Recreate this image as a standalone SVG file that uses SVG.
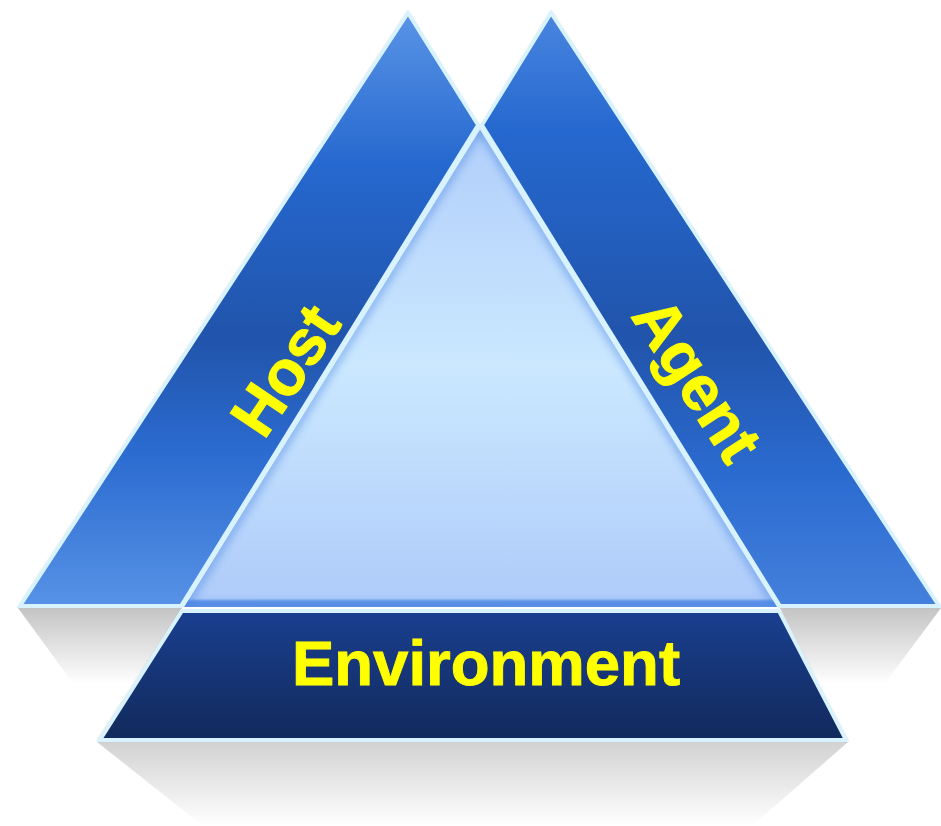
<svg xmlns="http://www.w3.org/2000/svg" width="941" height="826" viewBox="0 0 941 826">
  <style>
    .edge { stroke: #d8f3ff; stroke-width: 3.8; stroke-linejoin: miter; }
    .label { font-family: "Liberation Sans", Arial, sans-serif; font-weight: 700; fill: #ffff00; stroke: #ffff00; stroke-width: 0.9; font-size: 63.5px; }
  </style>
  <defs>
    <linearGradient id="sideGrad" gradientUnits="userSpaceOnUse" x1="0" y1="12" x2="0" y2="606">
      <stop offset="0" stop-color="#5a94e6"/>
      <stop offset="0.26" stop-color="#2568cf"/>
      <stop offset="0.55" stop-color="#2154ab"/>
      <stop offset="0.74" stop-color="#2b6bd0"/>
      <stop offset="1" stop-color="#5792e6"/>
    </linearGradient>
    <linearGradient id="agentGrad" gradientUnits="userSpaceOnUse" x1="0" y1="12" x2="0" y2="606">
      <stop offset="0" stop-color="#4a86e0"/>
      <stop offset="0.2" stop-color="#2568cf"/>
      <stop offset="0.55" stop-color="#2154ab"/>
      <stop offset="0.78" stop-color="#2b6bd0"/>
      <stop offset="1" stop-color="#4480dc"/>
    </linearGradient>
    <linearGradient id="innerGrad" gradientUnits="userSpaceOnUse" x1="0" y1="128" x2="0" y2="606">
      <stop offset="0" stop-color="#b0cefa"/>
      <stop offset="0.5" stop-color="#cbe8ff"/>
      <stop offset="1" stop-color="#aecbfa"/>
    </linearGradient>
    <linearGradient id="envGrad" gradientUnits="userSpaceOnUse" x1="0" y1="612" x2="0" y2="740">
      <stop offset="0" stop-color="#1a3f8f"/>
      <stop offset="1" stop-color="#122a5c"/>
    </linearGradient>
    <linearGradient id="shadowTop" gradientUnits="userSpaceOnUse" x1="0" y1="608" x2="0" y2="684">
      <stop offset="0" stop-color="#c4c4c4"/>
      <stop offset="1" stop-color="#ffffff"/>
    </linearGradient>
    <linearGradient id="shadowBottom" gradientUnits="userSpaceOnUse" x1="0" y1="742" x2="0" y2="826">
      <stop offset="0" stop-color="#d2d2d2"/>
      <stop offset="1" stop-color="#ffffff"/>
    </linearGradient>
    <filter id="soft" x="-10%" y="-10%" width="120%" height="120%">
      <feGaussianBlur stdDeviation="1.2"/>
    </filter>
    <filter id="glow" x="-20%" y="-20%" width="140%" height="140%">
      <feGaussianBlur stdDeviation="5"/>
    </filter>
    <clipPath id="innerClip"><polygon points="480,128 184,607 778,607"/></clipPath>
  </defs>

  <g id="shadows">
    <polygon points="18,608 182,608 130,690 78,690" fill="url(#shadowTop)"/>
    <polygon points="780,608 941,608 880,690 820,690" fill="url(#shadowTop)"/>
    <polygon points="97,742 848,742 752,826 203,826" fill="url(#shadowBottom)"/>
  </g>

  <g id="host">
    <polygon points="408,11 478,125 181,607 18,607" fill="#888" opacity="0.45" filter="url(#soft)"/>
    <polygon class="edge" points="408,13 478,125 181,606 20,606" fill="url(#sideGrad)"/>
    <text class="label" transform="translate(264,441) rotate(-56)">Host</text>
  </g>

  <g id="agent">
    <polygon points="551,11 940,607 780,607 482,125" fill="#888" opacity="0.45" filter="url(#soft)"/>
    <polygon class="edge" points="551,13 939,606 780,606 482,125" fill="url(#agentGrad)"/>
    <text class="label" transform="translate(630,316) rotate(57)">Agent</text>
  </g>

  <g id="center">
    <polygon points="480,128 184,607 778,607" fill="url(#innerGrad)"/>
    <g clip-path="url(#innerClip)">
      <polygon points="480,128 184,607 778,607" fill="none" stroke="#3f7ee0" stroke-width="5" opacity="0.8" filter="url(#glow)"/>
      <rect x="170" y="600" width="620" height="8" fill="#3f7ee0" opacity="0.7" filter="url(#soft)"/>
    </g>
    <path class="edge" d="M480,126 L181,608 M480,126 L780,608" fill="none"/>
  </g>

  <g id="environment">
    <polygon points="181,611 780,611 848,741 97,741" fill="#888" opacity="0.45" filter="url(#soft)"/>
    <polygon class="edge" points="182,611 779,611 846,740 100,740" fill="url(#envGrad)"/>
    <text class="label" x="486" y="685" text-anchor="middle">Environment</text>
  </g>

  <g id="connectors"/>
</svg>
